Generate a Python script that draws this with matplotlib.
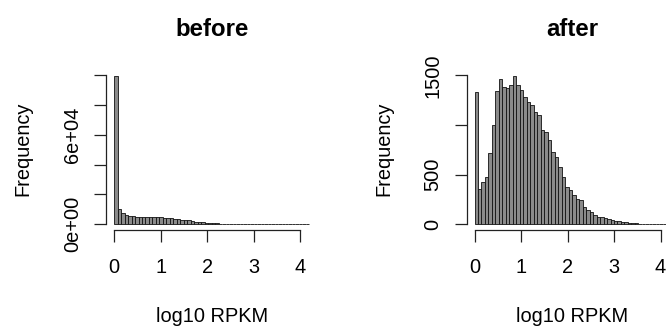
import numpy as np
import matplotlib
matplotlib.use("Agg")
import matplotlib.pyplot as plt

# histogram counts per bin (bin width 0.075 on log10 RPKM, from 0 to 4.2)
bin_width = 0.075
before_counts = [99500, 10000, 7600, 6400, 5700, 5400, 5200, 5100, 5000, 5000,
                 5000, 4950, 4900, 4800, 4500, 4300, 4000, 3700, 3450, 3200,
                 3000, 2650, 2250, 1900, 1600, 1350, 1100, 900, 750, 620,
                 500, 400, 330, 270, 220, 180, 150, 120, 100, 80,
                 65, 55, 45, 38, 30, 25, 20, 16, 13, 10,
                 8, 6, 5, 4, 3, 2]
after_counts = [1338, 361, 425, 478, 715, 1000, 1340, 1463, 1382, 1372,
                1405, 1497, 1400, 1355, 1287, 1237, 1200, 1135, 1100, 950,
                933, 849, 731, 680, 579, 478, 377, 344, 293, 260,
                243, 175, 142, 124, 91, 74, 74, 64, 57, 40,
                34, 34, 24, 27, 13, 10, 9, 7, 6, 5,
                4, 3, 3, 2, 2, 1]
titles = ["before", "after"]
xticks = [0, 1, 2, 3, 4]
before_yticks = [0, 20000, 40000, 60000, 80000, 100000]
before_yticklabels = ["0e+00", "", "", "6e+04", "", ""]
after_yticks = [0, 500, 1000, 1500]
after_yticklabels = ["0", "500", "", "1500"]

W, H = 666, 331
plt.rcParams["font.family"] = ["Liberation Sans", "DejaVu Sans"]
plt.rcParams["font.size"] = 14.4

fig = plt.figure(figsize=(W / 100, H / 100), dpi=100)


def make_panel(left_px, counts, title, yticks, yticklabels):
    counts = np.array(counts, dtype=float)
    edges = np.arange(len(counts) + 1) * bin_width
    xr = edges[-1] - edges[0]
    xlim = (edges[0] - 0.04 * xr, edges[-1] + 0.04 * xr)
    ylim = (-0.04 * counts.max(), 1.04 * counts.max())

    # plot region: 46.5 px per unit on x
    px_per_unit = 46.5
    width_px = (xlim[1] - xlim[0]) * px_per_unit
    top_px, bottom_px = 69.8, 230.3
    ax = fig.add_axes([left_px / W, 1 - bottom_px / H,
                       width_px / W, (bottom_px - top_px) / H])

    ax.bar(edges[:-1], counts, width=bin_width, align="edge",
           color="#8a8a8a", edgecolor="#111111", linewidth=0.6)
    ax.set_xlim(xlim)
    ax.set_ylim(ylim)

    for s in ["top", "right"]:
        ax.spines[s].set_visible(False)
    ax.spines["bottom"].set_bounds(xticks[0], xticks[-1])
    ax.spines["left"].set_bounds(yticks[0], yticks[-1])
    for s in ["bottom", "left"]:
        ax.spines[s].set_linewidth(0.9)
        ax.spines[s].set_color("#222222")

    ax.set_xticks(xticks)
    ax.set_xticklabels([str(t) for t in xticks])
    ax.set_yticks(yticks)
    ax.set_yticklabels(yticklabels, rotation=90, va="center")
    ax.tick_params(axis="both", length=8.6, width=0.9, color="#222222")
    ax.tick_params(axis="x", pad=11)
    ax.tick_params(axis="y", pad=9)

    cx = (left_px + width_px / 2) / W
    fig.text(cx, 1 - 30 / H, title, ha="center", va="center",
             fontsize=17.3, fontweight="bold")
    fig.text(cx, 1 - 316 / H, "log10 RPKM", ha="center", va="center")
    fig.text((left_px - 83) / W, 1 - 149 / H, "Frequency", ha="center",
             va="center", rotation=90)
    return ax


make_panel(106.3, before_counts, titles[0], before_yticks, before_yticklabels)
make_panel(466.7, after_counts, titles[1], after_yticks, after_yticklabels)

fig.savefig("out.png", dpi=100)
